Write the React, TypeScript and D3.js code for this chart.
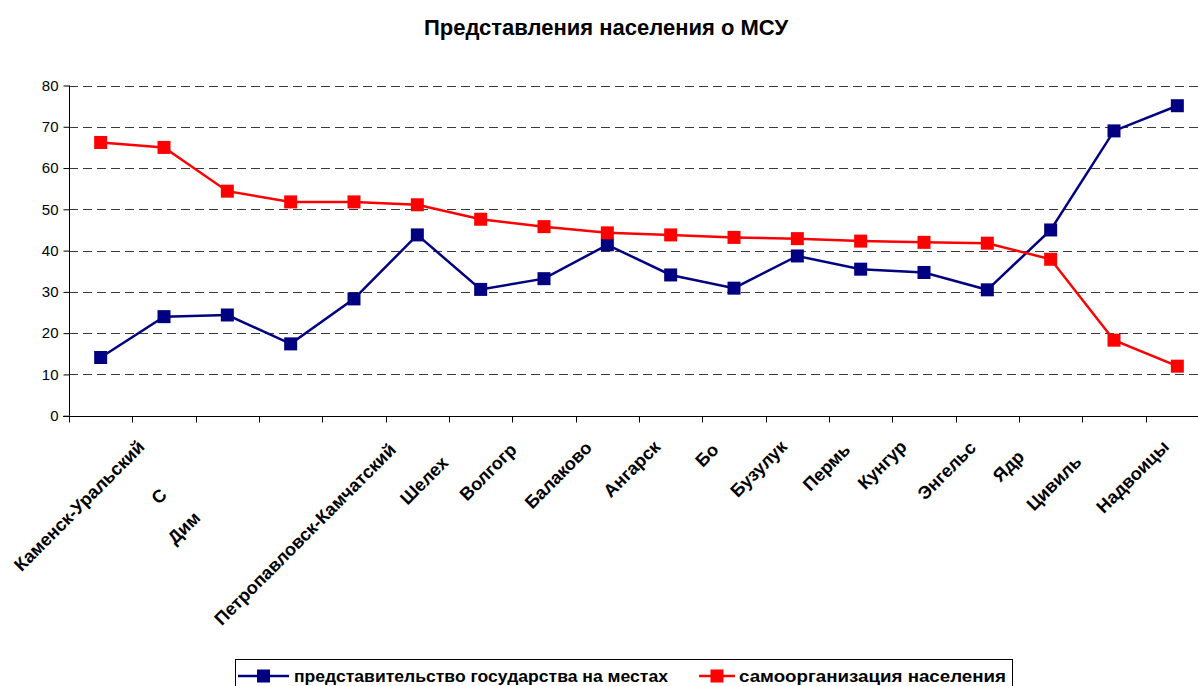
import React, { useEffect, useRef } from "react";
import * as d3 from "d3";

// category labels as they are shown under the axis (several are cut off in the original)
const categories = [
  "Каменск-Уральский", "С", "Дим", "", "Петропавловск-Камчатский", "Шелех",
  "Волгогр", "Балаково", "Ангарск", "Бо", "Бузулук", "Пермь",
  "Кунгур", "Энгельс", "Ядр", "Цивиль", "Надвоицы", ""
];

const stateValues = [
  14.1, 24.0, 24.4, 17.4, 28.3, 43.8, 30.6, 33.2, 41.4,
  34.1, 30.9, 38.7, 35.5, 34.7, 30.5, 45.0, 69.0, 75.1
];

const selfOrgValues = [
  66.2, 65.0, 54.4, 51.8, 51.8, 51.1, 47.6, 45.8, 44.3,
  43.8, 43.2, 42.9, 42.3, 42.0, 41.8, 37.9, 18.3, 12.0
];

const yTicks = [0, 10, 20, 30, 40, 50, 60, 70, 80];

const seriesNames = ["представительство государства на местах", "самоорганизация населения"];

// small nudges for the cut-off labels, [dx, dy]
const labelNudge = [
  [-7, 0], [-48, 48], [-78, 71], [0, 0], [-9, 3], [-20, 16],
  [-15, 3], [-3, 1], [2, 0], [-3, 3], [2, 0], [2, 3],
  [-5, 0], [1, 1], [-14, 10], [-20, 15], [4, 0], [0, 0]
];

const FONT = "'Liberation Sans', Arial, sans-serif";

function App() {
  const ref = useRef<SVGSVGElement | null>(null);

  useEffect(() => {
    document.body.style.margin = "0";
    const width = 1198;
    const height = 686;
    const left = 69;
    const right = 1209;
    const top = 85.5;
    const bottom = 415.7;

    const svg = d3.select(ref.current).attr("width", width).attr("height", height);
    svg.selectAll("*").remove();
    svg.append("rect").attr("width", width).attr("height", height).attr("fill", "#fff");

    const idx = categories.map((_, i) => i);
    const xScale = d3.scaleBand<number>().domain(idx).range([left, right]);
    const xc = (i: number) => (xScale(i) as number) + xScale.bandwidth() / 2;
    const yScale = d3.scaleLinear().domain([0, 80]).range([bottom, top]);

    // gridlines
    svg.append("g")
      .selectAll("line")
      .data(yTicks.filter((t) => t > 0))
      .join("line")
      .attr("x1", left)
      .attr("x2", right)
      .attr("y1", (d) => Math.round(yScale(d)) + 0.5)
      .attr("y2", (d) => Math.round(yScale(d)) + 0.5)
      .attr("stroke", "#3a3a3a")
      .attr("stroke-width", 1)
      .attr("stroke-dasharray", "9,5");

    // y axis
    const yAxis = svg.append("g").attr("transform", `translate(${left + 0.5},0)`)
      .call(d3.axisLeft(yScale).tickValues(yTicks).tickSize(6).tickPadding(5));
    yAxis.select(".domain").remove();
    yAxis.append("line").attr("y1", top).attr("y2", bottom).attr("stroke", "#000");
    yAxis.selectAll(".tick line").attr("stroke", "#000");
    yAxis.selectAll("text")
      .attr("font-family", FONT)
      .attr("font-size", 15)
      .attr("fill", "#000");

    // x axis
    const bx = Math.round(bottom) + 0.5;
    svg.append("line")
      .attr("x1", left - 6).attr("x2", right)
      .attr("y1", bx).attr("y2", bx)
      .attr("stroke", "#000");
    svg.append("g")
      .selectAll("line")
      .data(idx)
      .join("line")
      .attr("x1", (d) => Math.round(xScale(d) as number) + 0.5)
      .attr("x2", (d) => Math.round(xScale(d) as number) + 0.5)
      .attr("y1", bx)
      .attr("y2", bx + 6)
      .attr("stroke", "#000");

    // category labels
    svg.append("g")
      .selectAll("text")
      .data(idx)
      .join("text")
      .attr("transform", (d) => `translate(${xc(d) + 52 + labelNudge[d][0]},${448 + labelNudge[d][1]}) rotate(-45)`)
      .attr("text-anchor", "end")
      .attr("font-family", FONT)
      .attr("font-weight", "bold")
      .attr("font-size", 18)
      .text((d) => categories[d]);

    // series
    const series = [
      { values: stateValues, color: "#000080" },
      { values: selfOrgValues, color: "#ff0000" }
    ];
    const line = d3.line<number>().x((_, i) => xc(i)).y((d) => yScale(d));
    const ms = 13;
    series.forEach((s) => {
      svg.append("path")
        .datum(s.values)
        .attr("d", line)
        .attr("fill", "none")
        .attr("stroke", s.color)
        .attr("stroke-width", 2.5);
      svg.append("g")
        .selectAll("rect")
        .data(s.values)
        .join("rect")
        .attr("x", (_, i) => xc(i) - ms / 2)
        .attr("y", (d) => yScale(d) - ms / 2)
        .attr("width", ms)
        .attr("height", ms)
        .attr("fill", s.color);
    });

    // title
    svg.append("text")
      .attr("x", 606)
      .attr("y", 35)
      .attr("text-anchor", "middle")
      .attr("font-family", FONT)
      .attr("font-weight", "bold")
      .attr("font-size", 22)
      .text("Представления населения о МСУ");

    // legend
    svg.append("rect")
      .attr("x", 235.5).attr("y", 659.5)
      .attr("width", 777).attr("height", 40)
      .attr("fill", "#fff").attr("stroke", "#000");
    const legendItems = [
      { x1: 238, x2: 289, tx: 294, tw: 374, color: "#000080", name: seriesNames[0] },
      { x1: 699, x2: 735, tx: 739, tw: 267, color: "#ff0000", name: seriesNames[1] }
    ];
    const ly = 676;
    legendItems.forEach((it) => {
      svg.append("line")
        .attr("x1", it.x1).attr("x2", it.x2)
        .attr("y1", ly).attr("y2", ly)
        .attr("stroke", it.color).attr("stroke-width", 2.5);
      svg.append("rect")
        .attr("x", (it.x1 + it.x2) / 2 - ms / 2).attr("y", ly - ms / 2)
        .attr("width", ms).attr("height", ms)
        .attr("fill", it.color);
      svg.append("text")
        .attr("x", it.tx).attr("y", ly + 6)
        .attr("font-family", FONT)
        .attr("font-weight", "bold")
        .attr("font-size", 17)
        .attr("textLength", it.tw)
        .attr("lengthAdjust", "spacingAndGlyphs")
        .text(it.name);
    });
  }, []);

  return <svg ref={ref} />;
}

export default App;
